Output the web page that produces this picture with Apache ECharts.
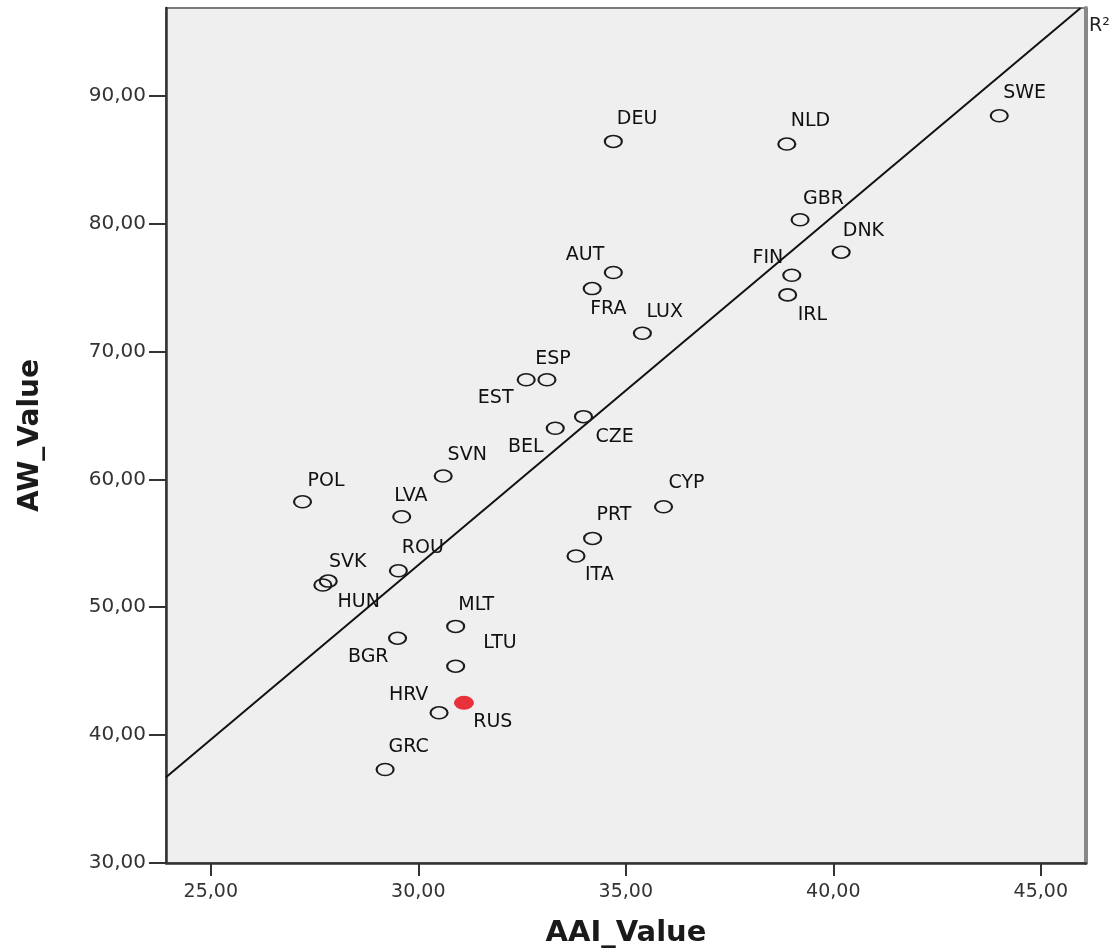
<!DOCTYPE html>
<html>
<head>
<meta charset="utf-8">
<script src="https://cdn.jsdelivr.net/npm/echarts@6/dist/echarts.min.js"></script>
<style>
html,body{margin:0;padding:0;background:#fff;}
#chart{width:1116px;height:952px;}
</style>
</head>
<body>
<div id="chart"></div>
<script>
// ---- data ----
const countries = ['SWE','DEU','NLD','GBR','DNK','AUT','FIN','FRA','IRL','LUX','ESP','EST','CZE','BEL','SVN','POL','LVA','CYP','PRT','ITA','ROU','SVK','HUN','MLT','BGR','LTU','HRV','GRC'];
const aaiValue  = [44.00,34.70,38.88,39.20,40.19,34.70,39.00,34.19,38.90,35.40,33.10,32.60,33.98,33.30,30.60,27.21,29.60,35.91,34.20,33.80,29.52,27.83,27.70,30.90,29.50,30.90,30.50,29.20];
const awValue   = [88.42,86.42,86.21,80.29,77.76,76.17,75.96,74.91,74.42,71.42,67.78,67.78,64.90,63.99,60.26,58.25,57.07,57.86,55.38,54.00,52.85,52.04,51.73,48.50,47.58,45.39,41.74,37.31];
const highlightCountry = ['RUS'];
const highlightAAI = [31.10];
const highlightAW  = [42.52];
// fit line end points
const fitAAI = [23.92, 45.96];
const fitAW  = [36.70, 96.85];
const xTicks = [25, 30, 35, 40, 45];
const yTicks = [30, 40, 50, 60, 70, 80, 90];
const xTitle = 'AAI_Value';
const yTitle = 'AW_Value';
const fitLabel = 'R²';

// ---- label placement (presentation only): anchor side, dx, dy ----
const labelPlace = {
  SWE:['l',4,-23], DEU:['l',3.5,-22], NLD:['l',4,-22.6], GBR:['l',3,-21], DNK:['l',1.6,-21],
  AUT:['r',-9,-17.7], FIN:['r',-8.5,-17], FRA:['l',-2,20.6], IRL:['l',10,20], LUX:['l',4,-21.6],
  ESP:['l',-11.7,-20.7], EST:['r',-12.7,18], CZE:['l',12,20], BEL:['r',-11.7,18.4], SVN:['l',4.4,-21],
  POL:['l',5,-21], LVA:['l',-7.4,-20.7], CYP:['l',5,-23.4], PRT:['l',4,-23.3], ITA:['l',9,19],
  ROU:['l',3.4,-22.4], SVK:['l',0.7,-18.7], HUN:['l',14.6,16.7], MLT:['l',2.6,-21.7], BGR:['r',-9,19],
  LTU:['l',27.6,-22.7], HRV:['r',-10.7,-17.7], GRC:['l',3.3,-22.6], RUS:['l',9.3,19]
};

const ellipse = 'path://M0,50 A50,50 0 1,1 100,50 A50,50 0 1,1 0,50 Z';
const FONT = 'DejaVu Sans';

function pointItem(name, x, y) {
  const p = labelPlace[name] || ['l', 4, -20];
  return {
    name: name,
    value: [x, y],
    label: {
      show: true,
      formatter: name,
      position: 'inside',
      align: p[0] === 'l' ? 'left' : 'right',
      verticalAlign: 'middle',
      offset: [p[1], p[2]]
    }
  };
}

const mainData = countries.map((c, i) => pointItem(c, aaiValue[i], awValue[i]));
const hlData = highlightCountry.map((c, i) => pointItem(c, highlightAAI[i], highlightAW[i]));
const fitData = fitAAI.map((x, i) => [x, fitAW[i]]);

const fmt = v => v.toFixed(2).replace('.', ',');

const labelStyle = { fontFamily: FONT, fontSize: 19, color: '#111' };

const chart = echarts.init(document.getElementById('chart'), null, { renderer: 'canvas' });
chart.setOption({
  backgroundColor: '#ffffff',
  animation: false,
  textStyle: { fontFamily: FONT },
  grid: {
    left: 166, right: 30, top: 8, bottom: 89,
    show: true, backgroundColor: '#efefef', borderColor: '#7a7a7a', borderWidth: 2,
    outerBoundsMode: 'none'
  },
  xAxis: {
    type: 'value', min: 23.92, max: 46.09,
    name: xTitle, nameLocation: 'middle', nameGap: 56,
    nameTextStyle: { fontFamily: FONT, fontWeight: 'bold', fontSize: 29, color: '#1a1a1a' },
    axisLine: { show: true, lineStyle: { color: '#333', width: 2.5 } },
    axisTick: { show: true, length: 13, customValues: xTicks, lineStyle: { color: '#333', width: 2 } },
    axisLabel: { customValues: xTicks, formatter: fmt, margin: 20, fontFamily: FONT, fontSize: 19, color: '#333' },
    splitLine: { show: false }
  },
  yAxis: [{
    type: 'value', min: 30, max: 96.85,
    name: yTitle, nameLocation: 'middle', nameRotate: 90, nameGap: 121,
    nameTextStyle: { fontFamily: FONT, fontWeight: 'bold', fontSize: 28, color: '#1a1a1a' },
    axisLine: { show: true, lineStyle: { color: '#333', width: 2.5 } },
    axisTick: { show: true, length: 17, customValues: yTicks, lineStyle: { color: '#333', width: 2 } },
    axisLabel: { customValues: yTicks, formatter: fmt, margin: 20, fontFamily: FONT, fontSize: 20, color: '#333' },
    splitLine: { show: false }
  }, {
    type: 'value', min: 30, max: 96.85, position: 'right',
    axisLine: { show: true, lineStyle: { color: '#888', width: 4 } },
    axisTick: { show: false }, axisLabel: { show: false }, splitLine: { show: false }
  }],
  series: [
    {
      type: 'line', data: fitData, symbol: 'none', silent: true,
      lineStyle: { color: '#111', width: 2 }, z: 2
    },
    {
      type: 'scatter', data: mainData, symbol: ellipse, symbolSize: [17, 12],
      itemStyle: { color: 'rgba(0,0,0,0)', borderColor: '#1a1a1a', borderWidth: 1.8, opacity: 1 },
      label: labelStyle, z: 3
    },
    {
      type: 'scatter', data: hlData, symbol: ellipse, symbolSize: [20, 14],
      itemStyle: { color: '#e8313a', borderWidth: 0, opacity: 1 },
      label: labelStyle, z: 4
    }
  ],
  graphic: [{
    type: 'text', left: 1089, top: 17,
    style: { text: fitLabel, fontFamily: FONT, fontSize: 19, fill: '#222' }
  }]
});
</script>
</body>
</html>
